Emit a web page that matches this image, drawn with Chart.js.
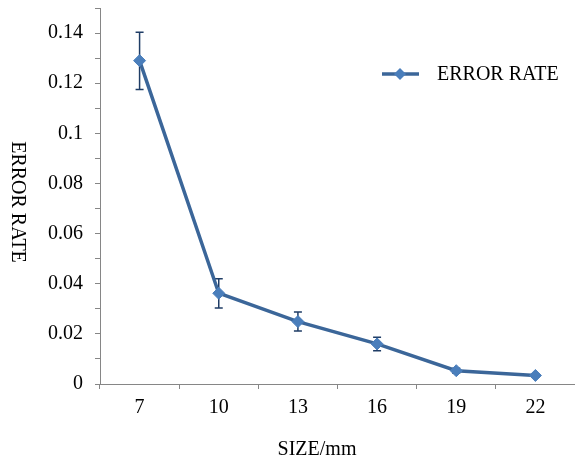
<!DOCTYPE html>
<html>
<head>
<meta charset="utf-8">
<script src="https://cdn.jsdelivr.net/npm/chart.js@4.4.1/dist/chart.umd.min.js"></script>
<style>
  body { margin: 0; background: #fff; }
  #wrap { width: 575px; height: 462px; }
</style>
</head>
<body>
<div id="wrap"><canvas id="errChart" width="575" height="462"></canvas></div>
<script>
// data
const sizes = ['7', '10', '13', '16', '19', '22'];
const errorRate = [0.129, 0.0362, 0.0249, 0.0160, 0.0053, 0.0034];
const errUp = [0.0113, 0.0058, 0.0038, 0.0027, 0.0010, 0.0007];
const errDown = [0.0115, 0.0059, 0.0038, 0.0027, 0.0010, 0.0007];

const serif = "'Liberation Serif', 'Times New Roman', serif";
const axisGray = '#868686';
const lineBlue = '#3B6699';
const markBlue = '#4A7EBB';
const barNavy = '#1F3D66';

// error bars, drawn under the line and markers
const errorBars = {
    id: 'errorBars',
    beforeDatasetsDraw(chart) {
        const ctx = chart.ctx;
        const y = chart.scales.y;
        const pts = chart.getDatasetMeta(0).data;
        ctx.save();
        ctx.strokeStyle = barNavy;
        ctx.lineWidth = 1.5;
        pts.forEach((p, i) => {
            const top = y.getPixelForValue(errorRate[i] + errUp[i]);
            const bot = y.getPixelForValue(errorRate[i] - errDown[i]);
            ctx.beginPath();
            ctx.moveTo(p.x, top); ctx.lineTo(p.x, bot);
            ctx.moveTo(p.x - 4, top); ctx.lineTo(p.x + 4, top);
            ctx.moveTo(p.x - 4, bot); ctx.lineTo(p.x + 4, bot);
            ctx.stroke();
        });
        ctx.restore();
    }
};

// axis titles and legend (y title reads top to bottom)
const extras = {
    id: 'extras',
    afterDraw(chart) {
        const ctx = chart.ctx;
        ctx.save();
        ctx.fillStyle = '#000';
        ctx.font = '20px ' + serif;
        ctx.textAlign = 'center';
        ctx.textBaseline = 'middle';
        ctx.fillText('SIZE/mm', 317, 450);

        ctx.translate(17, 202);
        ctx.rotate(Math.PI / 2);
        ctx.fillText('ERROR RATE', 0, 0);
        ctx.restore();

        // legend
        ctx.save();
        ctx.strokeStyle = lineBlue;
        ctx.lineWidth = 3.5;
        ctx.beginPath();
        ctx.moveTo(382, 74); ctx.lineTo(419, 74);
        ctx.stroke();
        ctx.fillStyle = markBlue;
        ctx.beginPath();
        ctx.moveTo(400, 68); ctx.lineTo(406, 74); ctx.lineTo(400, 80); ctx.lineTo(394, 74);
        ctx.closePath();
        ctx.fill();
        ctx.fillStyle = '#000';
        ctx.font = '20px ' + serif;
        ctx.textAlign = 'left';
        ctx.textBaseline = 'middle';
        ctx.fillText('ERROR RATE', 437, 75);
        ctx.restore();
    }
};

const chart = new Chart(document.getElementById('errChart'), {
    type: 'line',
    data: {
        labels: sizes,
        datasets: [{
            label: 'ERROR RATE',
            data: errorRate,
            borderColor: lineBlue,
            borderWidth: 3.5,
            pointStyle: 'rectRot',
            pointRadius: 6,
            pointBackgroundColor: markBlue,
            pointBorderColor: markBlue,
            pointBorderWidth: 1,
            tension: 0,
        }],
    },
    options: {
        responsive: false,
        animation: false,
        layout: { autoPadding: false, padding: { top: 8, right: 0, left: 0, bottom: 0 } },
        plugins: {
            legend: { display: false },
            tooltip: { enabled: false },
        },
        scales: {
            x: {
                offset: true,
                grid: { offset: true, drawOnChartArea: false, drawTicks: true, tickLength: 5, color: axisGray },
                border: { color: axisGray, width: 1 },
                ticks: { color: '#000', padding: 7, font: { family: serif, size: 20 }, maxRotation: 0 },
                afterFit: s => { s.height = 78; s.paddingLeft = 0; s.paddingRight = 0; },
            },
            y: {
                min: 0,
                max: 0.15,
                grid: { drawOnChartArea: false, drawTicks: true, tickLength: 5, color: axisGray },
                border: { color: axisGray, width: 1 },
                ticks: {
                    stepSize: 0.01,
                    autoSkip: false,
                    color: '#000',
                    padding: 12,
                    font: { family: serif, size: 20 },
                    callback: v => {
                        const k = Math.round(v * 100);
                        return (k % 2 === 0 && k < 15) ? String(k / 100) : '';
                    },
                },
                afterFit: s => { s.width = 100; s.paddingTop = 0; s.paddingBottom = 0; },
            },
        },
    },
    plugins: [errorBars, extras],
});
</script>
</body>
</html>
